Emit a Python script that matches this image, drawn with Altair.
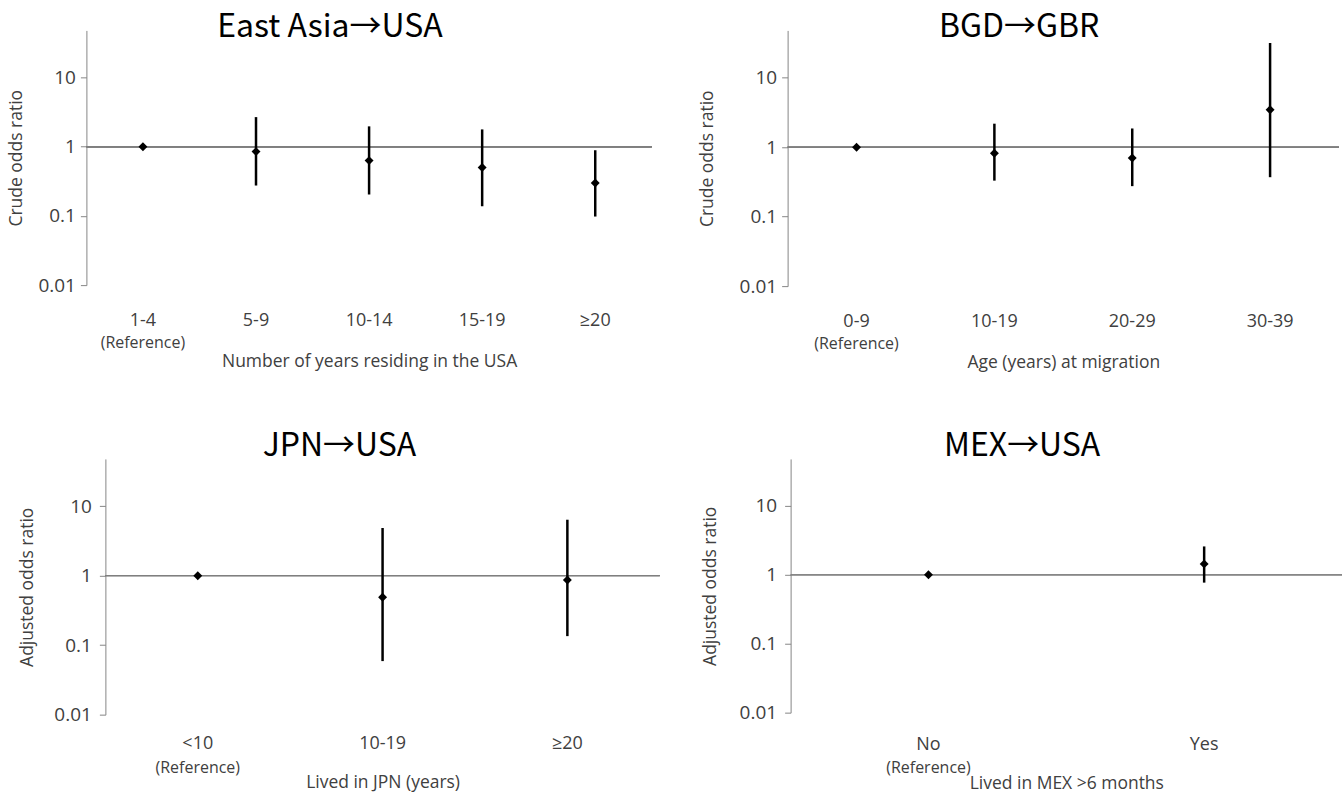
import altair as alt
import pandas as pd

FONT = "Open Sans"
TITLE_FONT = "Noto Sans CJK JP"
LABEL_COLOR = "#404040"
AXIS_COLOR = "#868686"

# ---- Panel 1: East Asia -> USA ----
p1_cats = ["1-4", "5-9", "10-14", "15-19", "≥20"]
p1_or = [1.0, 0.85, 0.63, 0.50, 0.30]
p1_lo = [None, 0.275, 0.204, 0.138, 0.098]
p1_hi = [None, 2.68, 1.97, 1.78, 0.89]

# ---- Panel 2: BGD -> GBR ----
p2_cats = ["0-9", "10-19", "20-29", "30-39"]
p2_or = [1.0, 0.82, 0.70, 3.45]
p2_lo = [None, 0.33, 0.275, 0.37]
p2_hi = [None, 2.18, 1.86, 31.6]

# ---- Panel 3: JPN -> USA ----
p3_cats = ["<10", "10-19", "≥20"]
p3_or = [1.0, 0.49, 0.87]
p3_lo = [None, 0.059, 0.135]
p3_hi = [None, 4.86, 6.4]

# ---- Panel 4: MEX -> USA ----
p4_cats = ["No", "Yes"]
p4_or = [1.0, 1.44]
p4_lo = [None, 0.77]
p4_hi = [None, 2.58]

y_ticks = [0.01, 0.1, 1, 10]
y_domain = [0.01, 48]


def panel(cats, orv, lo, hi, title, ytitle, xtitle, width, height,
          title_offset, label_pad, ytitle_x, ref_dy, xtitle_y, xlabel_pad):
    df = pd.DataFrame({"cat": cats, "or": orv, "lo": lo, "hi": hi,
                       "order": list(range(len(cats)))})
    df["one"] = 1.0
    xaxis = alt.Axis(labelAngle=0, domain=False, ticks=False, tickSize=0,
                     labelPadding=xlabel_pad, labelBaseline="middle", labelFontSize=18,
                     labelColor=LABEL_COLOR, titleY=xtitle_y, titleBaseline="middle",
                     titleFontSize=17.5, titleFontWeight="normal", titleColor=LABEL_COLOR)
    x = alt.X("cat:N", sort=cats, title=xtitle, axis=xaxis)
    yscale = alt.Scale(type="log", domain=y_domain, nice=False)
    yaxis = alt.Axis(values=y_ticks, format="~g", grid=False, domainColor=AXIS_COLOR,
                     tickColor=AXIS_COLOR, tickSize=6, labelPadding=label_pad,
                     labelFontSize=19, labelColor=LABEL_COLOR, titleX=ytitle_x,
                     titleBaseline="middle", titleAngle=270, titleFontSize=17.5,
                     titleFontWeight="normal", titleColor=LABEL_COLOR)
    base = alt.Chart(df)
    refline = base.mark_rule(color="#7f7f7f", strokeWidth=1.3).encode(
        y=alt.Y("one:Q", scale=yscale, axis=yaxis, title=ytitle))
    bars = base.mark_rule(color="black", strokeWidth=2.5).encode(
        x=x,
        y=alt.Y("lo:Q", scale=yscale, axis=yaxis, title=ytitle),
        y2="hi:Q").transform_filter("isValid(datum.lo)")
    pts = base.mark_point(shape="diamond", filled=True, size=80, color="black",
                          opacity=1).encode(
        x=x, y=alt.Y("or:Q", scale=yscale, axis=yaxis, title=ytitle))
    reftxt = base.mark_text(fontSize=16, color=LABEL_COLOR, baseline="middle").encode(
        x=x, y=alt.value(height + ref_dy), text=alt.value("(Reference)")
    ).transform_filter("datum.order == 0")
    return alt.layer(refline, bars, pts, reftxt).properties(
        width=width, height=height,
        title=alt.TitleParams(text=title, fontSize=32, font=TITLE_FONT, fontWeight="normal",
                              color="black", anchor="middle", frame="bounds",
                              offset=title_offset, baseline="alphabetic"))


def spacer(w):
    return alt.Chart(pd.DataFrame({"s": [0]})).mark_point(opacity=0).encode(
        x=alt.value(w / 2), y=alt.value(5)).properties(width=w, height=10)


c1 = panel(p1_cats, p1_or, p1_lo, p1_hi, "East Asia→USA", "Crude odds ratio",
           "Number  of years residing in the USA", 566, 255, -39, 5, -70, 58, 76, 35)
c2 = panel(p2_cats, p2_or, p2_lo, p2_hi, "BGD→GBR", "Crude odds ratio",
           "Age  (years) at migration", 552, 256, -39, 5, -80, 58, 76, 35)
c3 = panel(p3_cats, p3_or, p3_lo, p3_hi, "JPN→USA", "Adjusted odds ratio",
           "Lived in JPN (years)", 555, 256, -29, 8, -78, 53, 68, 29)
c4 = panel(p4_cats, p4_or, p4_lo, p4_hi, "MEX→USA", "Adjusted odds ratio",
           "Lived in MEX >6 months", 552, 254, -29, 8, -80, 55, 71, 32)

top = alt.hconcat(alt.hconcat(spacer(1), c1, spacing=0), c2, spacing=46)
bottom = alt.hconcat(alt.hconcat(spacer(14.5), c3, spacing=0), c4, spacing=41)
chart = alt.vconcat(top, bottom, spacing=59).properties(
    padding={"left": 0.5, "top": 11, "right": 0, "bottom": 0},
    background="white"
).configure(font=FONT).configure_view(stroke=None).configure_axis(
    labelFont=FONT, titleFont=FONT)

chart.save("out.html", embed_options={"renderer": "svg", "actions": False})
